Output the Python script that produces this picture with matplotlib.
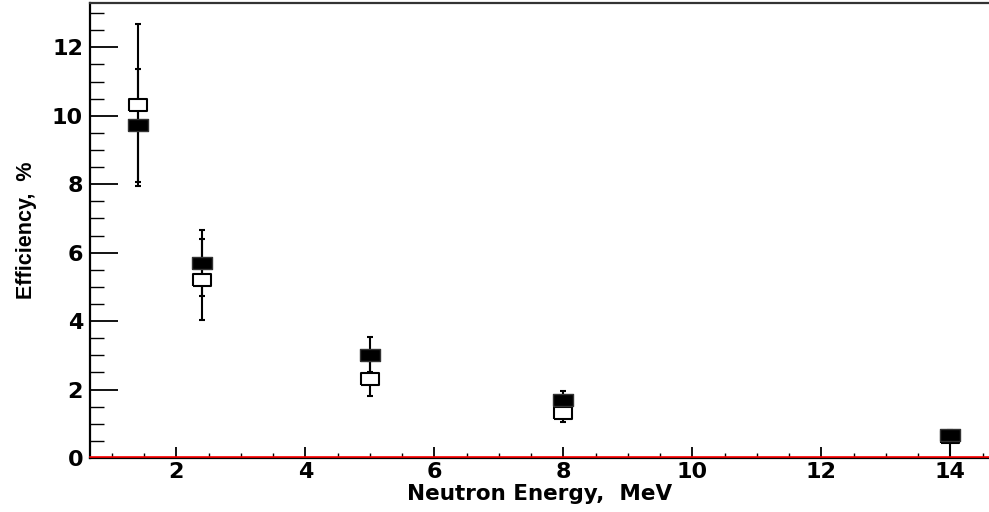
import matplotlib
matplotlib.use('Agg')
import matplotlib.pyplot as plt
from matplotlib.ticker import MultipleLocator

# Neutron energies (MeV) and efficiencies (%)
energy = [1.4, 2.4, 5.0, 8.0, 14.0]
eff_filled = [9.72, 5.70, 3.02, 1.68, 0.66]
err_filled_lo = [1.65, 0.97, 0.52, 0.29, 0.66]
err_filled_hi = [1.65, 0.97, 0.52, 0.29, 0.15]
eff_open = [10.31, 5.21, 2.32, 1.31, 0.62]
err_open = [2.37, 1.19, 0.52, 0.27, 0.10]

plt.rcParams['font.family'] = ['DejaVu Sans']
plt.rcParams['font.weight'] = 'bold'

fig = plt.figure(figsize=(9.89, 5.12), dpi=100)
ax = fig.add_axes([0.091, 0.1055, 0.909, 0.889])

# rectangular marker, wider than tall
rect = [(-1.0, -0.64), (1.0, -0.64), (1.0, 0.64), (-1.0, 0.64), (-1.0, -0.64)]

ax.errorbar(energy, eff_open, yerr=err_open, fmt='none', ecolor='black',
            elinewidth=1.5, capsize=2, capthick=1.5, zorder=2)
ax.errorbar(energy, eff_filled, yerr=[err_filled_lo, err_filled_hi], fmt='none',
            ecolor='black', elinewidth=1.5, capsize=2, capthick=1.5, zorder=2)
ax.plot(energy, eff_open, linestyle='none', marker=rect, markersize=13,
        markerfacecolor='white', markeredgecolor='black', markeredgewidth=1.5, zorder=3)
ax.plot(energy, eff_filled, linestyle='none', marker=rect, markersize=14.2,
        markerfacecolor='black', markeredgecolor='#333333', markeredgewidth=1.0, zorder=4)

# red zero line sitting just on top of the x axis
ax.axhline(0.03, color='red', linewidth=1.2, zorder=5, clip_on=False)

ax.set_xlim(0.66, 14.6)
ax.set_ylim(0, 13.3)
ax.xaxis.set_major_locator(MultipleLocator(2))
ax.xaxis.set_minor_locator(MultipleLocator(0.5))
ax.yaxis.set_major_locator(MultipleLocator(2))
ax.yaxis.set_minor_locator(MultipleLocator(0.5))

ax.spines['right'].set_visible(False)
for s in ['left', 'bottom', 'top']:
    ax.spines[s].set_linewidth(1.6)
    ax.spines[s].set_color('black')
ax.spines['top'].set_color('#333333')

ax.tick_params(axis='x', which='major', direction='in', length=8, width=1.3,
               labelsize=16, pad=3, top=False)
ax.tick_params(axis='x', which='minor', direction='in', length=3.5, width=1.0, top=False)
ax.tick_params(axis='y', which='major', direction='in', length=20, width=1.3,
               labelsize=16, pad=5, right=False)
ax.tick_params(axis='y', which='minor', direction='in', length=10, width=1.0, right=False)
for lbl in ax.get_xticklabels() + ax.get_yticklabels():
    lbl.set_fontweight('bold')

ax.set_xlabel('Neutron Energy,  MeV', fontsize=15.5, fontweight='bold', labelpad=1)
ax.set_ylabel('Efficiency,  %', fontsize=15.5, fontweight='bold',
              fontfamily='Liberation Sans', labelpad=11)

fig.savefig('out.png', dpi=100)
